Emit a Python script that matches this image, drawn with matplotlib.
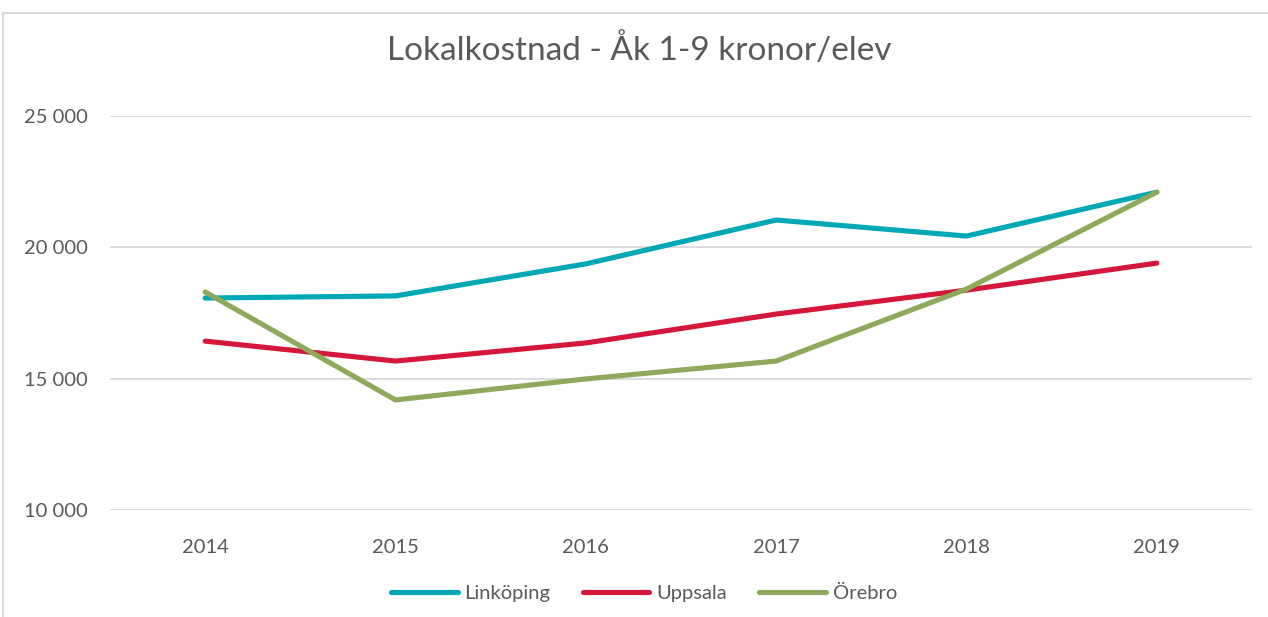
import matplotlib
matplotlib.use("Agg")
import matplotlib.pyplot as plt
from matplotlib.patches import Rectangle
from matplotlib.ticker import FuncFormatter

years = ["2014", "2015", "2016", "2017", "2018", "2019"]
linkoping = [18070, 18150, 19370, 21040, 20430, 22100]
uppsala = [16430, 15670, 16360, 17460, 18370, 19400]
orebro = [18300, 14190, 14990, 15670, 18410, 22100]

series_names = ["Linköping", "Uppsala", "Örebro"]
colors = ["#00A8B5", "#D6173C", "#8EA95B"]

plt.rcParams['font.family'] = ['Lato', 'DejaVu Sans']
fig = plt.figure(figsize=(12.68, 6.17), dpi=100)
W, H = 1268, 617

# outer chart frame
fig.patches.append(Rectangle((3 / W, -0.1), 1.2, 1 - 13 / H + 0.1, transform=fig.transFigure,
                             fill=False, edgecolor="#D9D9D9", linewidth=1.5))

ax = fig.add_axes([110 / W, 1 - 510 / H, (1252 - 110) / W, (510 - 116) / H])
x = list(range(len(years)))
for vals, name, c in zip([linkoping, uppsala, orebro], series_names, colors):
    ax.plot(x, vals, color=c, linewidth=3.7, label=name, solid_capstyle="round", solid_joinstyle="round")

ax.set_xlim(-0.5, len(years) - 0.5)
ax.set_ylim(10000, 25000)
ax.set_yticks([10000, 15000, 20000, 25000])
ax.yaxis.set_major_formatter(FuncFormatter(lambda v, p: f"{int(v):,}".replace(",", " ")))
ax.set_xticks(x)
ax.set_xticklabels(years)
ax.grid(axis="y", color="#D9D9D9", linewidth=1.3)
ax.set_axisbelow(True)
for s in ax.spines.values():
    s.set_visible(False)
ax.tick_params(axis="both", length=0, labelsize=14.5, colors="#595959")
ax.tick_params(axis="x", pad=21)
ax.tick_params(axis="y", pad=16)

fig.text(639 / W, 1 - 50 / H, "Lokalkostnad - Åk 1-9 kronor/elev", ha="center", va="center",
         fontsize=24, color="#595959")

leg = fig.legend(loc="center", bbox_to_anchor=(644 / W, 1 - 593 / H), ncol=3, frameon=False,
                 fontsize=14.5, handlelength=3.3, columnspacing=1.6, handletextpad=0.35)
for t in leg.get_texts():
    t.set_color("#595959")

fig.savefig("out.png", dpi=100)
